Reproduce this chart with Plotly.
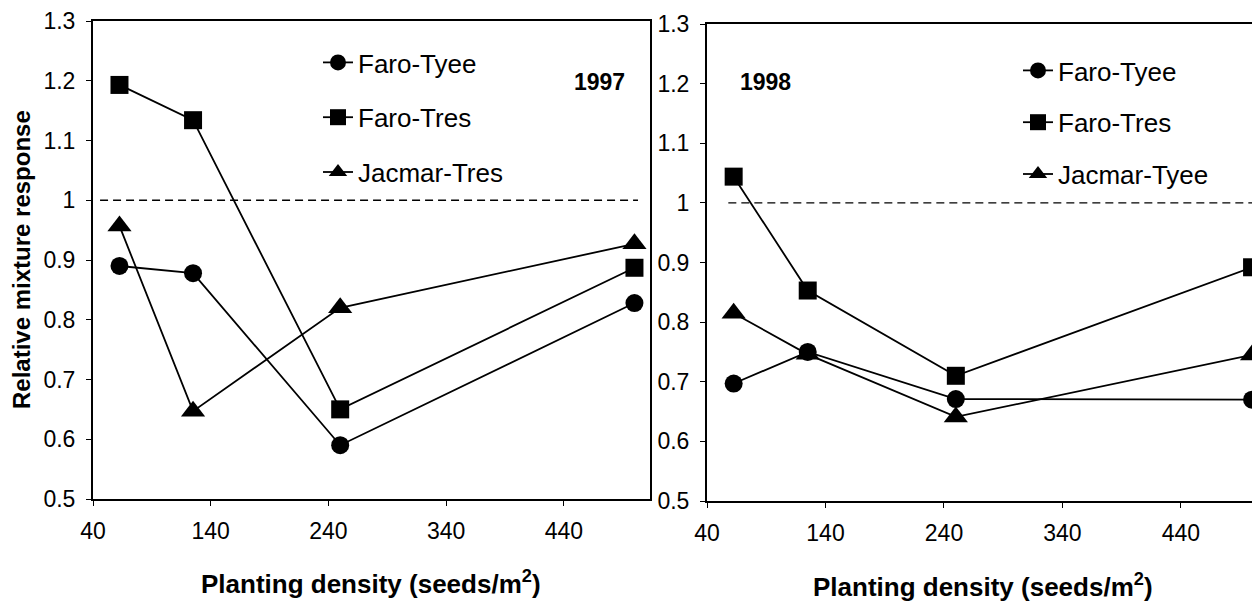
import plotly.graph_objects as go

# ---- data ----
density = [62.5, 125, 250, 500]

y1997_faro_tyee = [0.890, 0.878, 0.590, 0.828]
y1997_faro_tres = [1.193, 1.134, 0.650, 0.887]
y1997_jacmar_tres = [0.957, 0.647, 0.820, 0.927]

y1998_faro_tyee = [0.697, 0.750, 0.671, 0.670]
y1998_faro_tres = [1.044, 0.853, 0.710, 0.892]
y1998_jacmar_tyee = [0.815, 0.746, 0.641, 0.745]

ref_x_1997 = [46, 503]
ref_x_1998 = [58, 540]
ref_y = [1.0, 1.0]

x_ticks = [40, 140, 240, 340, 440]
y_ticks = [0.5, 0.6, 0.7, 0.8, 0.9, 1.0, 1.1, 1.2, 1.3]
y_ticktext = ["0.5", "0.6", "0.7", "0.8", "0.9", "1", "1.1", "1.2", "1.3"]

FONT = "Arial, Liberation Sans, sans-serif"
OFF = 8            # page body margin
W, H = 1260 - OFF, 603 - OFF


def px(X):
    return (X - OFF) / W


def py(Y):
    return 1 - (Y - OFF) / H


fig = go.Figure()

series_1997 = [("Faro-Tyee", y1997_faro_tyee, "circle", 18),
               ("Faro-Tres", y1997_faro_tres, "square", 18),
               ("Jacmar-Tres", y1997_jacmar_tres, "triangle-up", 21)]
series_1998 = [("Faro-Tyee", y1998_faro_tyee, "circle", 18),
               ("Faro-Tres", y1998_faro_tres, "square", 18),
               ("Jacmar-Tyee", y1998_jacmar_tyee, "triangle-up", 21)]

for i, (name, ys, sym, sz) in enumerate(series_1997):
    fig.add_trace(go.Scatter(x=density, y=ys, name=name, mode="lines+markers",
                             line=dict(color="black", width=1.8),
                             marker=dict(symbol=sym, size=sz, color="black"),
                             xaxis="x", yaxis="y", legend="legend",
                             legendgroup=f"a{i}", cliponaxis=False))
for i, (name, ys, sym, sz) in enumerate(series_1998):
    fig.add_trace(go.Scatter(x=density, y=ys, name=name, mode="lines+markers",
                             line=dict(color="black", width=1.8),
                             marker=dict(symbol=sym, size=sz, color="black"),
                             xaxis="x2", yaxis="y2", legend="legend2",
                             legendgroup=f"b{i}"))

fig.add_trace(go.Scatter(x=ref_x_1997, y=ref_y, mode="lines", showlegend=False,
                         line=dict(color="black", width=1.3, dash="8px,5px"),
                         xaxis="x", yaxis="y"))
fig.add_trace(go.Scatter(x=ref_x_1998, y=ref_y, mode="lines", showlegend=False,
                         line=dict(color="black", width=1.3, dash="8px,5px"),
                         xaxis="x2", yaxis="y2"))

axis_common = dict(showline=True, linecolor="black", linewidth=2,
                   ticks="outside", ticklen=5, tickwidth=1, tickcolor="black",
                   showgrid=False, zeroline=False, automargin=False,
                   tickfont=dict(family=FONT, size=23, color="black"))

fig.update_layout(
    template="none",
    width=W, height=H,
    margin=dict(l=0, r=0, t=0, b=0, pad=0, autoexpand=False),
    paper_bgcolor="white", plot_bgcolor="white",
    font=dict(family=FONT, color="black"),
    xaxis=dict(domain=[px(93), px(650)], range=[40, 513.2], tickvals=x_ticks,
               mirror=True, anchor="y", ticklabelstandoff=5, **axis_common),
    yaxis=dict(domain=[py(499), py(21)], range=[0.5, 1.3],
               tickvals=y_ticks, ticktext=y_ticktext, mirror=True, anchor="x",
               ticklabelstandoff=6, **axis_common),
    xaxis2=dict(domain=[px(707), 1.0], range=[40, 506.7], tickvals=x_ticks,
                mirror=True, anchor="y2", ticklabelstandoff=5, **axis_common),
    yaxis2=dict(domain=[py(501), py(24)], range=[0.5, 1.3],
                tickvals=y_ticks, ticktext=y_ticktext, mirror=False, anchor="x2",
                ticklabelstandoff=6, **axis_common),
    legend=dict(x=px(318), y=py(39), xanchor="left", yanchor="top",
                bgcolor="rgba(0,0,0,0)", tracegroupgap=18, traceorder="grouped",
                font=dict(family=FONT, size=26, color="black")),
    legend2=dict(x=px(1018), y=py(47), xanchor="left", yanchor="top",
                 bgcolor="rgba(0,0,0,0)", tracegroupgap=15, traceorder="grouped",
                 font=dict(family=FONT, size=26, color="black")),
    annotations=[
        dict(text="<b>1997</b>", x=px(599), y=py(82), xref="paper", yref="paper",
             xanchor="center", yanchor="middle", showarrow=False,
             font=dict(family=FONT, size=23)),
        dict(text="<b>1998</b>", x=px(765), y=py(82), xref="paper", yref="paper",
             xanchor="center", yanchor="middle", showarrow=False,
             font=dict(family=FONT, size=23)),
        dict(text="<b>Planting density (seeds/m<sup>2</sup>)</b>", x=px(371), y=py(582),
             xref="paper", yref="paper", xanchor="center", yanchor="middle",
             showarrow=False, font=dict(family=FONT, size=26)),
        dict(text="<b>Planting density (seeds/m<sup>2</sup>)</b>", x=px(983), y=py(585),
             xref="paper", yref="paper", xanchor="center", yanchor="middle",
             showarrow=False, font=dict(family=FONT, size=26)),
        dict(text="<b>Relative mixture response</b>", x=px(21), y=py(260),
             xref="paper", yref="paper", xanchor="center", yanchor="middle",
             showarrow=False, textangle=-90, font=dict(family=FONT, size=24)),
    ],
)

fig.write_html("out.html")
